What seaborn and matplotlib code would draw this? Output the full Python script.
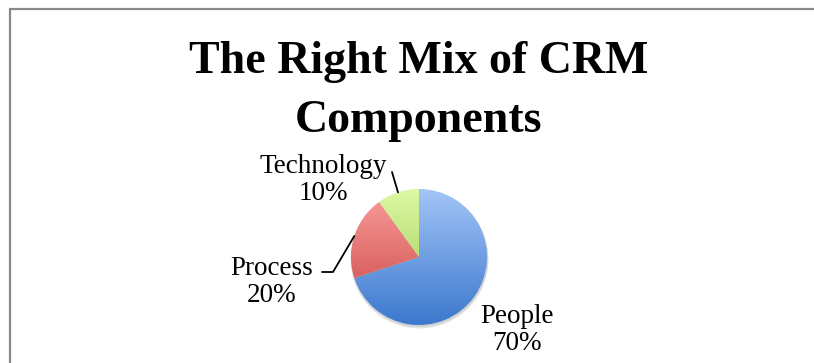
import matplotlib
matplotlib.use("Agg")
import matplotlib.pyplot as plt
import numpy as np
import seaborn as sns
from matplotlib.colors import LinearSegmentedColormap
from matplotlib.lines import Line2D
from matplotlib.patches import Circle

# data
components = ["People", "Process", "Technology"]
shares = [70, 20, 10]
top_colors = ["#A3C5F8", "#FA9F9D", "#DCF8A4"]
bottom_colors = ["#3C78CD", "#C8413E", "#99C449"]

sns.set_style("white")
plt.rcParams["font.family"] = ["Liberation Serif", "DejaVu Serif"]

W, H = 814, 363
fig = plt.figure(figsize=(W / 100, H / 100), dpi=100)
ax = fig.add_axes([0, 0, 1, 1])

cx, cy, r = 419, H - 257, 68

# soft shadow under the pie
ax.add_patch(Circle((cx + 0.5, cy - 2.5), r + 1, color="0.9", zorder=0, lw=0))
ax.add_patch(Circle((cx + 0.5, cy - 1.5), r + 0.5, color="0.82", zorder=0.5, lw=0))

wedges, _ = ax.pie(shares, startangle=90, counterclock=False,
                   center=(cx, cy), radius=r,
                   wedgeprops=dict(linewidth=0))

# vertical gradient fill, clipped to each wedge
grad = np.linspace(0, 1, 256).reshape(-1, 1)
for w, top, bot in zip(wedges, top_colors, bottom_colors):
    w.set_facecolor("none")
    cmap = LinearSegmentedColormap.from_list("g", [bot, top])
    im = ax.imshow(grad, extent=[cx - r, cx + r, cy - r, cy + r], origin="lower",
                   cmap=cmap, aspect="auto", zorder=1, interpolation="bilinear")
    im.set_clip_path(w)

ax.set_xlim(0, W)
ax.set_ylim(0, H)
ax.set_aspect("equal", adjustable="datalim")
ax.set_axis_off()

# labels and leader lines
label_pos = {"People": (517, H - 330), "Process": (272, H - 282), "Technology": (323, H - 180)}
leader_ends = {"Process": [(333, H - 272), (322, H - 272)], "Technology": [(392, H - 172)]}
for w, name, val in zip(wedges, components, shares):
    ax.text(*label_pos[name], f"{name}\n{val}%", ha="center", va="center",
            fontsize=19.5, linespacing=1.15, color="black")
    if name in leader_ends:
        mid = np.deg2rad((w.theta1 + w.theta2) / 2)
        pts = [(cx + r * np.cos(mid), cy + r * np.sin(mid))] + leader_ends[name]
        xs, ys = zip(*pts)
        ax.plot(xs, ys, color="black", lw=1.3)

# title
fig.text(418.5 / W, 1 - 73 / H, "The Right Mix of CRM", ha="center", va="baseline",
         fontsize=33, fontweight="bold", color="black")
fig.text(418.5 / W, 1 - 132 / H, "Components", ha="center", va="baseline",
         fontsize=33, fontweight="bold", color="black")

# chart frame
fig.add_artist(Line2D([9.5 / W, 9.5 / W], [0, 1 - 8.5 / H], color="#8a8a8a", lw=1.6))
fig.add_artist(Line2D([9.5 / W, 1], [1 - 8.5 / H, 1 - 8.5 / H], color="#8a8a8a", lw=1.6))

fig.savefig("out.png", dpi=100)
